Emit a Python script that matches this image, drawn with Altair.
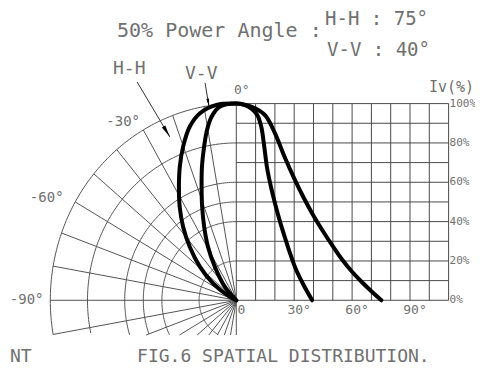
import altair as alt
import numpy as np
import pandas as pd

# ---------------- data ----------------
# Cartesian half: angle (deg) vs relative intensity Iv (%)
hh_rect_deg = [0, 5, 10, 15, 20, 25, 30, 35, 40, 45, 50, 55, 60, 65, 70, 75.2]
hh_rect_iv = [100, 99.3, 97.5, 94, 85, 73, 62, 52, 43, 35, 27.5, 20.5, 14.5, 9.3, 4.6, 0]
vv_rect_deg = [0, 4, 8, 11, 13, 14.5, 16, 18, 20, 22.5, 25, 28, 31, 35, 39.3]
vv_rect_iv = [100, 99.4, 97.3, 94, 88, 78, 67, 57.5, 49.5, 40.5, 32.5, 23.5, 15.5, 7.5, 0]

# Polar half: angle (deg, negative = left) vs radius Iv (%)
hh_polar_deg = [0, -6.1, -11.6, -15.8, -20.1, -24.1, -28.1, -32.6, -37.4, -42.6, -48.9, -55.5, -62.8, -70]
hh_polar_iv = [100, 99.9, 97.1, 91.8, 83.2, 74.4, 65.5, 56.5, 47.1, 37.0, 26.0, 15.2, 3.9, 0]
vv_polar_deg = [0, -5.2, -8.1, -10.3, -12.5, -15.2, -17.9, -21.1, -24.8, -29.2, -34.1, -41.9, -45]
vv_polar_iv = [100, 98.8, 94.3, 88.0, 80.0, 70.4, 60.7, 51.0, 41.2, 31.2, 20.6, 9.3, 0]

# grids and tick labels
rect_grid_deg = list(range(0, 111, 10))
rect_grid_iv = list(range(0, 101, 10))
polar_arc_iv = [20, 40, 50, 60, 80, 100]
polar_ray_deg = list(range(-180, 0, 10))
iv_tick_values = [0, 20, 40, 60, 80, 100]
iv_tick_labels = ["0%", "20%", "40%", "60%", "80%", "100%"]
deg_tick_values = [0, 30, 60, 90]
deg_tick_labels = ["0", "30°", "60°", "90°"]
polar_tick_labels = ["-30°", "-60°", "-90°"]

# ---------------- layout constants ----------------
KX = 0.9637     # horizontal squash of the polar half
YCLIP = -17.64  # lower clip of the polar grid
XMIN, XMAX = -118.29, 123.68
YMIN, YMAX = -34.93, 148.60
W, H = 467, 361

xs = alt.Scale(domain=[XMIN, XMAX], nice=False, zero=False)
ys = alt.Scale(domain=[YMIN, YMAX], nice=False, zero=False)


def X(f):
    return alt.X(f, type="quantitative", scale=xs, axis=None)


def Y(f):
    return alt.Y(f, type="quantitative", scale=ys, axis=None)


GRID = "#4a4a4a"
PGRID = "#555555"
TXT = "#707070"
FONT = "DejaVu Sans Mono"

# ---------------- rectangular grid ----------------
vgrid = alt.Chart(pd.DataFrame({"deg": rect_grid_deg, "lo": 0, "hi": 100})).mark_rule(
    color=GRID, strokeWidth=1).encode(x=X("deg"), y=Y("lo"), y2="hi")
hgrid = alt.Chart(pd.DataFrame({"iv": rect_grid_iv, "lo": 0, "hi": 110})).mark_rule(
    color=GRID, strokeWidth=1).encode(y=Y("iv"), x=X("lo"), x2="hi")

# ---------------- polar grid ----------------
arc_df = pd.DataFrame(
    [(r, a) for r in polar_arc_iv for a in np.arange(-180, 0.5, 1.0)],
    columns=["r", "t"])
arcs = alt.Chart(arc_df).transform_calculate(
    px=f"datum.r*sin(datum.t*PI/180)*{KX}",
    py="datum.r*cos(datum.t*PI/180)",
).transform_filter(f"datum.py >= {YCLIP}").mark_line(
    color=PGRID, strokeWidth=1).encode(x=X("px"), y=Y("py"), detail="r:N", order="t:Q")

rays = alt.Chart(pd.DataFrame({"t": polar_ray_deg, "z": 0})).transform_calculate(
    c="cos(datum.t*PI/180)",
    s="sin(datum.t*PI/180)",
).transform_calculate(
    L=f"datum.c < 0 ? min(100, {-YCLIP}/(-datum.c)) : 100"
).transform_calculate(
    px2=f"datum.L*datum.s*{KX}", py2="datum.L*datum.c"
).mark_rule(color=PGRID, strokeWidth=1).encode(
    x=X("z"), y=Y("z"), x2="px2", y2="py2")

# ---------------- curves ----------------
rows = []
for name, pdeg, piv, rdeg, riv in [
    ("H-H", hh_polar_deg, hh_polar_iv, hh_rect_deg, hh_rect_iv),
    ("V-V", vv_polar_deg, vv_polar_iv, vv_rect_deg, vv_rect_iv),
]:
    k = 0
    for a, v in reversed(list(zip(pdeg, piv))):
        rows.append((name, "polar", a, v, k)); k += 1
    for a, v in list(zip(rdeg, riv))[1:]:
        rows.append((name, "rect", a, v, k)); k += 1
curve_df = pd.DataFrame(rows, columns=["series", "part", "ang", "iv", "k"])
curves = alt.Chart(curve_df).transform_calculate(
    px=f"datum.part == 'polar' ? datum.iv*sin(datum.ang*PI/180)*{KX} : datum.ang",
    py="datum.part == 'polar' ? datum.iv*cos(datum.ang*PI/180) : datum.iv",
).mark_line(color="black", strokeWidth=4, interpolate="catmull-rom",
            strokeCap="round", strokeJoin="round").encode(
    x=X("px"), y=Y("py"), detail="series:N", order="k:Q")

# ---------------- tick labels ----------------
iv_lbl = alt.Chart(pd.DataFrame({"v": iv_tick_values, "l": iv_tick_labels, "x": 110.5})).mark_text(
    align="left", baseline="middle", font=FONT, fontSize=11, color=TXT).encode(
    x=X("x"), y=Y("v"), text="l:N")
deg_lbl = alt.Chart(pd.DataFrame({"v": deg_tick_values, "l": deg_tick_labels, "y": -4.9})).mark_text(
    align="center", baseline="middle", font=FONT, fontSize=13, color=TXT, dx=5).encode(
    x=X("v"), y=Y("y"), text="l:N")
pol_lbl = alt.Chart(pd.DataFrame({"l": polar_tick_labels,
                                  "x": [-49.9, -89.5, -99.9],
                                  "y": [90.6, 52.0, 0.2]})).mark_text(
    align="right", baseline="middle", font=FONT, fontSize=14, color=TXT).encode(
    x=X("x"), y=Y("y"), text="l:N")

# ---------------- annotations ----------------
ann = pd.DataFrame({
    "t": ["50% Power Angle :", "H-H : 75°", "V-V : 40°", "H-H", "V-V", "Iv(%)", "0°",
          "FIG.6 SPATIAL DISTRIBUTION.", "NT"],
    "x": [-61.8, 46.0, 47.0, -63.9, -26.6, 99.8, -1.2, -51.4, -117.3],
    "y": [136.9, 143.0, 127.2, 117.6, 115.0, 108.4, 106.9, -28.8, -28.8],
    "s": [20, 19, 19, 18, 18, 15, 13, 18, 18],
})
ann_txt = alt.Chart(ann).mark_text(align="left", baseline="middle", font=FONT, color=TXT).encode(
    x=X("x"), y=Y("y"), text="t:N", size=alt.Size("s:Q", scale=None, legend=None))

leaders = pd.DataFrame({
    "x": [-51.4, -16.2], "y": [111.0, 110.5],
    "x2": [-34.4, -14.1], "y2": [83.0, 98.3],
    "ang": [329, 350.5], "sz": [150, 70],
})
leader_lines = alt.Chart(leaders).mark_rule(color="#333333", strokeWidth=1).encode(
    x=X("x"), y=Y("y"), x2="x2", y2="y2")
heads = alt.Chart(leaders).mark_point(
    shape="M0,0 L-0.32,-2 L0.32,-2 Z", filled=True, color="black", opacity=1).encode(
    x=X("x2"), y=Y("y2"), angle=alt.Angle("ang:Q", scale=None),
    size=alt.Size("sz:Q", scale=None, legend=None))

chart = alt.layer(
    arcs, rays, vgrid, hgrid, curves, iv_lbl, deg_lbl, pol_lbl,
    ann_txt, leader_lines, heads,
).properties(
    width=W, height=H, padding=0, autosize=alt.AutoSizeParams(type="none"),
    background="white",
).configure_view(stroke=None)

chart.save("out.html", embed_options={"renderer": "svg", "actions": False})
